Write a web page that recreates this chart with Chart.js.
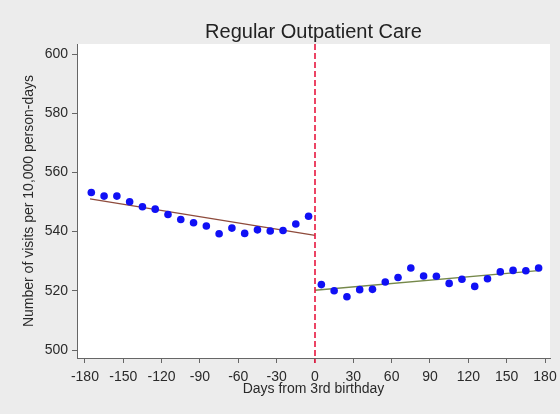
<!DOCTYPE html>
<html>
<head>
<meta charset="utf-8">
<title>Regular Outpatient Care</title>
<script src="https://cdn.jsdelivr.net/npm/chart.js@4/dist/chart.umd.min.js"></script>
<style>
  html, body { margin: 0; padding: 0; background: #ececec; }
  canvas { display: block; }
</style>
</head>
<body>
<canvas id="chart" width="560" height="414"></canvas>
<script>
// 10-day bins around the 3rd birthday
const daysBefore = [-175, -165, -155, -145, -135, -125, -115, -105, -95, -85, -75, -65, -55, -45, -35, -25, -15, -5]
const visitsBefore = [553.2, 552.0, 552.0, 550.1, 548.4, 547.6, 545.8, 544.1, 543.0, 541.9, 539.3, 541.2, 539.4, 540.6, 540.2, 540.4, 542.6, 545.2]
const daysAfter = [5, 15, 25, 35, 45, 55, 65, 75, 85, 95, 105, 115, 125, 135, 145, 155, 165, 175]
const visitsAfter = [522.1, 520.0, 518.0, 520.4, 520.5, 523.0, 524.5, 527.7, 525.0, 524.9, 522.5, 523.9, 521.5, 524.1, 526.4, 526.9, 526.8, 527.7]

// linear fits on each side of the cutoff
const fitBeforeX = [-176, 0]
const fitBeforeY = [551.1, 538.7]
const fitAfterX = [0, 177]
const fitAfterY = [520.2, 526.9]

const xTicks = [-180, -150, -120, -90, -60, -30, 0, 30, 60, 90, 120, 150, 180]
const yTicks = [500, 520, 540, 560, 580, 600]
const cutoff = 0

const pts = (xs, ys) => xs.map((x, i) => ({ x: x, y: ys[i] }))

// gray page, white plot region
const backdrop = {
  id: 'backdrop',
  beforeDraw(chart) {
    const { ctx, chartArea: a } = chart
    ctx.save()
    ctx.fillStyle = '#ececec'
    ctx.fillRect(0, 0, chart.width, chart.height)
    ctx.fillStyle = '#ffffff'
    ctx.fillRect(a.left, a.top, a.right - a.left, a.bottom - a.top)
    ctx.restore()
  }
}

// dashed red line at the birthday
const cutoffLine = {
  id: 'cutoffLine',
  afterDraw(chart) {
    const { ctx, chartArea: a, scales } = chart
    const x = Math.round(scales.x.getPixelForValue(cutoff))
    ctx.save()
    ctx.strokeStyle = '#e8173f'
    ctx.lineWidth = 1.6
    ctx.setLineDash([6, 3])
    ctx.beginPath()
    ctx.moveTo(x, a.top)
    ctx.lineTo(x, a.bottom + 5)
    ctx.stroke()
    ctx.restore()
  }
}

Chart.defaults.font.family = '"Liberation Sans", Arial, sans-serif'
Chart.defaults.font.size = 14
Chart.defaults.color = '#2a2a2a'

new Chart(document.getElementById('chart'), {
  type: 'scatter',
  data: {
    datasets: [
      {
        data: pts(daysBefore, visitsBefore),
        backgroundColor: '#1010f5',
        borderWidth: 0,
        pointRadius: 3.8
      },
      {
        data: pts(daysAfter, visitsAfter),
        backgroundColor: '#1010f5',
        borderWidth: 0,
        pointRadius: 3.8
      },
      {
        type: 'line',
        data: pts(fitBeforeX, fitBeforeY),
        borderColor: '#8e4b3c',
        borderWidth: 1.3,
        pointRadius: 0
      },
      {
        type: 'line',
        data: pts(fitAfterX, fitAfterY),
        borderColor: '#75884a',
        borderWidth: 1.3,
        pointRadius: 0
      }
    ]
  },
  options: {
    responsive: false,
    animation: false,
    layout: { padding: { top: 0, left: 0, right: 10, bottom: 0 } },
    plugins: {
      legend: { display: false },
      tooltip: { enabled: false },
      title: {
        display: true,
        text: 'Regular Outpatient Care',
        fullSize: false,
        color: '#222',
        font: { size: 20, weight: 'normal' },
        padding: { top: 20, bottom: 0 }
      }
    },
    scales: {
      x: {
        type: 'linear',
        min: -186.2,
        max: 183.9,
        afterFit(scale) {
          scale.height = 56
          // let the last label hang into the margin
          scale.paddingLeft = 0
          scale.paddingRight = 0
        },
        afterBuildTicks(scale) { scale.ticks = xTicks.map(v => ({ value: v })) },
        border: { color: '#666', width: 1 },
        grid: { drawOnChartArea: false, drawTicks: true, tickLength: 5, tickColor: '#666' },
        ticks: { padding: 6, autoSkip: false, maxRotation: 0 },
        title: {
          display: true,
          text: 'Days from 3rd birthday',
          padding: { top: 0, bottom: 16 }
        }
      },
      y: {
        type: 'linear',
        min: 497.3,
        max: 603.4,
        afterFit(scale) { scale.width = 77 },
        afterBuildTicks(scale) { scale.ticks = yTicks.map(v => ({ value: v })) },
        border: { color: '#666', width: 1 },
        grid: { drawOnChartArea: false, drawTicks: true, tickLength: 5, tickColor: '#666' },
        ticks: { padding: 4 },
        title: {
          display: true,
          text: 'Number of visits per 10,000 person-days',
          padding: { top: 21, bottom: 0 }
        }
      }
    }
  },
  plugins: [backdrop, cutoffLine]
})
</script>
</body>
</html>
